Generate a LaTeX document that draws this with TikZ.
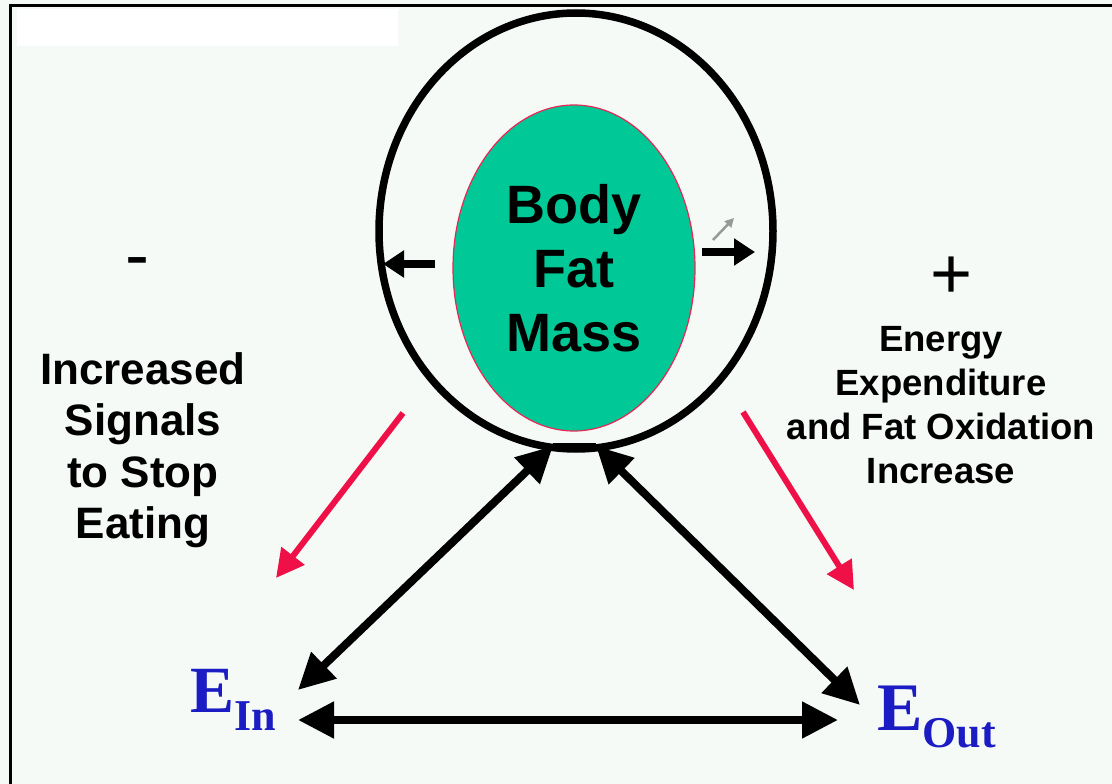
\documentclass[tikz,border=0pt]{standalone}
\usepackage{fontspec}
\setmainfont{Liberation Sans}
\newfontfamily\eserif{Liberation Serif}
\usepackage{xcolor}
\usetikzlibrary{arrows.meta,shapes.geometric}
\definecolor{paper}{RGB}{245,250,247}
\definecolor{fatgreen}{RGB}{0,200,150}
\definecolor{fatrim}{RGB}{232,40,84}
\definecolor{signred}{RGB}{240,16,72}
\definecolor{eblue}{RGB}{28,28,196}

\begin{document}
\begin{tikzpicture}[
  x=1pt, y=-1pt,
  sidetext/.style={align=center, inner sep=0pt, font=\bfseries},
  energy/.style={anchor=base west, inner sep=0pt, text=eblue, font=\eserif\bfseries},
  sign/.style={anchor=base, inner sep=0pt, font=\fontsize{72}{72}\selectfont},
  dblarrow/.style={{Triangle[length=36pt,width=35pt]}-{Triangle[length=36pt,width=35pt]}, line width=8pt},
  redarrow/.style={-{Triangle[length=28pt,width=28pt]}, draw=signred, line width=6pt},
  pusharrow/.style={-{Triangle[length=21pt,width=26pt]}, line width=7.5pt}
]
\useasboundingbox (0,0) rectangle (1112,784);
\fill[paper] (0,0) rectangle (1112,784);
\fill[white] (17,9) rectangle (398,46);
\draw[line width=3pt] (10.5,784) -- (10.5,6) -- (1112,6);

% ring and fat mass
\node[draw, ellipse, line width=7.5pt, inner sep=0pt, outer sep=0pt,
      minimum width=394pt, minimum height=436pt] (ring) at (576,231) {};
\node[ellipse, draw=fatrim, fill=fatgreen, line width=1.2pt, inner sep=0pt,
      minimum width=242pt, minimum height=326pt, align=center,
      font=\fontsize{54}{64}\selectfont\bfseries] (fat) at (574,268) {Body\\Fat\\Mass};

% push arrows inside the ring
\coordinate (pushLs) at (435,264);
\coordinate (pushLe) at (383,264);
\coordinate (pushRs) at (702,252);
\coordinate (pushRe) at (755,252);
\coordinate (tinyS) at (713,240);
\coordinate (tinyE) at (734,218);
\draw[pusharrow] (pushLs) -- (pushLe);
\draw[pusharrow] (pushRs) -- (pushRe);
\draw[-{Triangle[length=9pt,width=9pt]}, draw=gray!80, line width=2.5pt] (tinyS) -- (tinyE);

% signs and side texts
\node[sign] (minus) at (137,279) {-};
\node[sign] (plus) at (952,298) {+};
\node[sidetext, font=\fontsize{44}{51.5}\selectfont\bfseries] (stop) at (143,450)
  {Increased\\Signals\\to Stop\\Eating};
\node[sidetext, font=\fontsize{36.5}{44}\selectfont\bfseries] (burn) at (941,405)
  {Energy\\Expenditure\\and Fat Oxidation\\Increase};

% energy in / out
\node[energy] (ein) at (190,712)
  {{\fontsize{66}{66}\selectfont E}\raisebox{-18pt}{\fontsize{44}{44}\selectfont In}};
\node[energy] (eout) at (877,730)
  {{\fontsize{68}{68}\selectfont E}\raisebox{-17pt}{\fontsize{44}{44}\selectfont Out}};

% red signal arrows
\coordinate (redLs) at (403,413);
\coordinate (redLe) at (276,578);
\coordinate (redRs) at (743,412);
\coordinate (redRe) at (854,590);
\draw[redarrow] (redLs) -- (redLe);
\draw[redarrow] (redRs) -- (redRe);

% balance triangle
\coordinate (ringL) at (553,446);
\coordinate (ringR) at (596,446);
\coordinate (inTip) at (298,690);
\coordinate (outTip) at (860,705);
\coordinate (balL) at (298,720);
\coordinate (balR) at (838,720);
\draw[line width=7pt] (ringL) -- (ringR);
\draw[dblarrow] (ringL) -- (inTip);
\draw[dblarrow] (ringR) -- (outTip);
\draw[dblarrow] (balL) -- (balR);
\end{tikzpicture}
\end{document}
